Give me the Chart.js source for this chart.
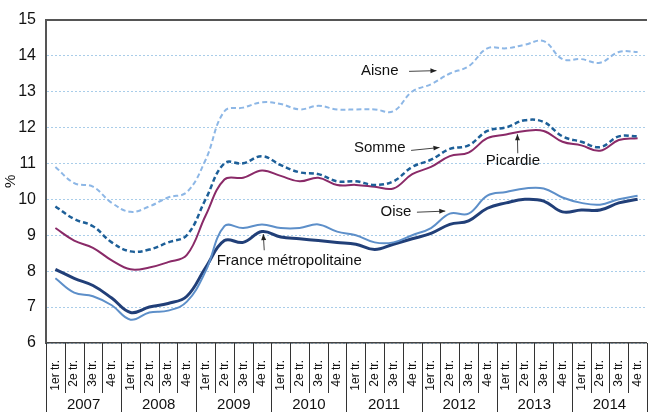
<!DOCTYPE html>
<html>
<head>
<meta charset="utf-8">
<script src="https://cdn.jsdelivr.net/npm/chart.js@4"></script>
<style>
  html, body { margin: 0; padding: 0; background: #fff; overflow: hidden; }
  #wrap { position: relative; width: 661px; height: 412px; }
</style>
</head>
<body>
<div id="wrap"><canvas id="chart"></canvas></div>
<script>
const years = ["2007", "2008", "2009", "2010", "2011", "2012", "2013", "2014"];
const quarters = ["1er tr.", "2e tr.", "3e tr.", "4e tr."];
const labels = years.flatMap(() => quarters);

const aisne = [10.9, 10.45, 10.35, 9.9, 9.65, 9.8, 10.05, 10.2, 11.1, 12.45, 12.55, 12.7, 12.65, 12.5, 12.6, 12.5,
  12.5, 12.5, 12.45, 13.0, 13.2, 13.5, 13.7, 14.2, 14.2, 14.3, 14.4, 13.9, 13.9, 13.8, 14.1, 14.1];
const somme = [9.8, 9.45, 9.25, 8.8, 8.55, 8.6, 8.8, 9.0, 10.0, 11.0, 11.0, 11.2, 10.95, 10.75, 10.7, 10.5,
  10.5, 10.4, 10.5, 10.9, 11.1, 11.4, 11.5, 11.9, 12.0, 12.2, 12.15, 11.75, 11.6, 11.45, 11.75, 11.75];
const picardie = [9.2, 8.85, 8.65, 8.3, 8.05, 8.1, 8.25, 8.45, 9.55, 10.55, 10.6, 10.8, 10.65, 10.5, 10.6, 10.4,
  10.4, 10.35, 10.3, 10.7, 10.9, 11.2, 11.3, 11.7, 11.8, 11.9, 11.9, 11.6, 11.5, 11.35, 11.65, 11.7];
const oise = [7.8, 7.4, 7.3, 7.05, 6.65, 6.85, 6.9, 7.15, 8.0, 9.25, 9.2, 9.3, 9.2, 9.2, 9.3, 9.1,
  9.0, 8.8, 8.8, 9.0, 9.2, 9.6, 9.6, 10.1, 10.2, 10.3, 10.3, 10.05, 9.9, 9.85, 10.0, 10.1];
const france = [8.05, 7.8, 7.6, 7.25, 6.85, 7.0, 7.1, 7.3, 8.1, 8.85, 8.8, 9.1, 8.95, 8.9, 8.85, 8.8,
  8.75, 8.6, 8.75, 8.9, 9.05, 9.3, 9.4, 9.75, 9.9, 10.0, 9.95, 9.65, 9.7, 9.7, 9.9, 10.0];

// label text + arrow, in data coordinates (category index, value)
const notes = [
  { text: "Aisne", at: [17.27, 13.56], from: [18.83, 13.56], to: [20.29, 13.58] },
  { text: "Somme", at: [17.27, 11.42], from: [18.94, 11.36], to: [20.45, 11.44] },
  { text: "Picardie", at: [24.36, 11.06], from: [24.62, 11.28], to: [24.6, 11.81] },
  { text: "Oise", at: [18.13, 9.65], from: [19.25, 9.64], to: [20.76, 9.67] },
  { text: "France métropolitaine", at: [12.45, 8.28], from: [11.12, 8.58], to: [11.07, 9.03] },
];

const FONT = "'Liberation Sans', Arial, sans-serif";

const separators = {
  id: "separators",
  afterDraw(chart) {
    const x = chart.scales.x;
    const ctx = chart.ctx;
    const half = (x.getPixelForValue(1) - x.getPixelForValue(0)) / 2;
    ctx.save();
    ctx.strokeStyle = "#333";
    ctx.lineWidth = 1;
    for (let i = 0; i <= labels.length; i++) {
      const px = Math.round((i < labels.length ? x.getPixelForValue(i) - half : x.getPixelForValue(i - 1) + half)) + 0.5;
      const bottom = i % 4 === 0 ? chart.height : x.bottom;
      ctx.beginPath();
      ctx.moveTo(px, x.top);
      ctx.lineTo(px, bottom);
      ctx.stroke();
    }
    ctx.restore();
  },
};

const annotations = {
  id: "annotations",
  afterDatasetsDraw(chart) {
    const x = chart.scales.x, y = chart.scales.y;
    const ctx = chart.ctx;
    const pt = (p) => [x.getPixelForValue(p[0]), y.getPixelForValue(p[1])];
    ctx.save();
    notes.forEach((n) => {
      const [tx, ty] = pt(n.at);
      ctx.font = "15px " + FONT;
      ctx.fillStyle = "#111";
      ctx.textAlign = "center";
      ctx.textBaseline = "middle";
      ctx.fillText(n.text, tx, ty);
      const [x1, y1] = pt(n.from);
      const [x2, y2] = pt(n.to);
      ctx.strokeStyle = "#444";
      ctx.fillStyle = "#222";
      ctx.lineWidth = 1;
      ctx.beginPath();
      ctx.moveTo(x1, y1);
      ctx.lineTo(x2, y2);
      ctx.stroke();
      const a = Math.atan2(y2 - y1, x2 - x1);
      ctx.beginPath();
      ctx.moveTo(x2, y2);
      ctx.lineTo(x2 - 6 * Math.cos(a) + 2.5 * Math.sin(a), y2 - 6 * Math.sin(a) - 2.5 * Math.cos(a));
      ctx.lineTo(x2 - 6 * Math.cos(a) - 2.5 * Math.sin(a), y2 - 6 * Math.sin(a) + 2.5 * Math.cos(a));
      ctx.closePath();
      ctx.fill();
    });
    ctx.restore();
  },
};

function series(label, data, color, width, dash) {
  return {
    label: label,
    data: data,
    borderColor: color,
    borderWidth: width,
    borderDash: dash || [],
    pointRadius: 0,
    tension: 0.4,
    fill: false,
  };
}

new Chart(document.getElementById("chart"), {
  type: "line",
  data: {
    labels: labels,
    datasets: [
      series("Aisne", aisne, "#8db7e6", 2, [5, 3]),
      series("Somme", somme, "#1d5f98", 2.5, [5, 3]),
      series("Picardie", picardie, "#8a2a68", 2),
      series("Oise", oise, "#5d8fc9", 2),
      series("France métropolitaine", france, "#213f78", 3),
    ],
  },
  options: {
    responsive: true,
    maintainAspectRatio: false,
    animation: false,
    layout: { padding: { top: 19, left: 0, right: 0, bottom: 0 } },
    plugins: { legend: { display: false }, tooltip: { enabled: false } },
    scales: {
      x: {
        offset: true,
        grid: { display: false },
        border: { display: true, color: "#444", width: 1.5 },
        ticks: {
          autoSkip: false,
          minRotation: 90,
          maxRotation: 90,
          padding: 9,
          color: "#111",
          font: { family: FONT, size: 12 },
        },
        afterFit: (s) => { s.height = 50; },
      },
      x2: {
        type: "category",
        labels: years,
        position: "bottom",
        offset: true,
        grid: { display: false },
        border: { display: false },
        ticks: { padding: -5, color: "#111", font: { family: FONT, size: 15 } },
        afterFit: (s) => { s.height = 19; },
      },
      y: {
        min: 6,
        max: 15,
        ticks: { stepSize: 1, padding: 10, color: "#111", font: { family: FONT, size: 16 } },
        grid: {
          drawTicks: false,
          color: (c) => (c.tick && c.tick.value === 15 ? "#555" : "#a9cde9"),
          lineWidth: (c) => (c.tick && c.tick.value === 15 ? 2 : 1),
        },
        border: {
          display: true,
          color: "#555",
          width: 2,
          dash: (c) => (c.tick && c.tick.value === 15 ? [] : [2, 2]),
        },
        title: { display: true, text: "%", color: "#111", padding: 2, font: { family: FONT, size: 15 } },
        afterFit: (s) => { s.width = 46; },
      },
    },
  },
  plugins: [separators, annotations],
});
</script>
</body>
</html>
